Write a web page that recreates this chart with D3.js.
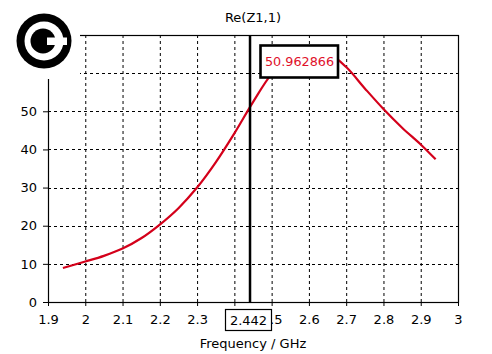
<!DOCTYPE html>
<html><head><meta charset="utf-8">
<script src="https://cdn.jsdelivr.net/npm/d3@7"></script>
<style>body{margin:0;background:#fff}svg{display:block}text{font-family:"DejaVu Sans",Verdana,sans-serif}</style>
</head><body><svg id="c" width="492" height="354"></svg>
<script>
const freq = [1.94,2.0,2.05,2.1,2.15,2.2,2.25,2.3,2.35,2.4,2.45,2.5,2.55,2.6,2.65,2.7,2.75,2.8,2.85,2.9,2.94];
const reZ  = [8.9,10.6,12.1,14.0,16.7,20.3,24.6,30.0,36.6,44.2,52.4,59.8,64.6,66.4,65.4,61.6,56.0,50.6,45.7,41.3,37.4];
const xTicks = [1.9,2,2.1,2.2,2.3,2.4,2.5,2.6,2.7,2.8,2.9,3];
const yTicks = [0,10,20,30,40,50,60,70];
const markerFreq = 2.442;
const markerLabel = "2.442";
const markerValue = "50.962866";
const title = "Re(Z1,1)";
const xTitle = "Frequency / GHz";

const svg = d3.select("#c");
const L=48,R=458,T=35,B=302;
const x = d3.scaleLinear().domain([1.9,3]).range([L,R]);
const y = d3.scaleLinear().domain([0,70]).range([B,T]);

// grid
const g = svg.append("g");
g.selectAll(".vg").data(xTicks.slice(1,-1)).enter().append("line")
 .attr("x1",d=>x(d)+0.5).attr("x2",d=>x(d)+0.5).attr("y1",T).attr("y2",B)
 .attr("stroke","#000").attr("stroke-dasharray","3,3");
g.selectAll(".hg").data(yTicks.slice(1,-1)).enter().append("line")
 .attr("y1",d=>Math.round(y(d))+0.5).attr("y2",d=>Math.round(y(d))+0.5).attr("x1",L).attr("x2",R)
 .attr("stroke","#000").attr("stroke-dasharray","3,3");

// axes
const xa = svg.append("g").attr("transform",`translate(0,${B})`)
 .call(d3.axisBottom(x).tickValues(xTicks).tickSize(4).tickPadding(9).tickFormat(d3.format("")));
const ya = svg.append("g").attr("transform",`translate(${L},0)`)
 .call(d3.axisLeft(y).tickValues(yTicks).tickSize(5).tickPadding(6).tickFormat(d3.format("")));
[xa,ya].forEach(a=>{a.selectAll("text").attr("font-size","13px").attr("fill","#000").attr("font-family","DejaVu Sans");
 a.selectAll("line,path").attr("stroke","#000");});
ya.select(".domain").remove(); xa.select(".domain").remove();
svg.append("rect").attr("x",L+0.5).attr("y",T+0.5).attr("width",R-L).attr("height",B-T)
 .attr("fill","none").attr("stroke","#000").attr("stroke-width",1.2);

// curve
svg.append("path").datum(freq.map((f,i)=>[f,reZ[i]]))
 .attr("d",d3.line().x(d=>x(d[0])).y(d=>y(d[1])).curve(d3.curveCatmullRom.alpha(0.5)))
 .attr("fill","none").attr("stroke","#d4001a").attr("stroke-width",2.2);

// marker
const mx = x(markerFreq);
svg.append("line").attr("x1",mx).attr("x2",mx).attr("y1",T).attr("y2",B)
 .attr("stroke","#000").attr("stroke-width",2.5);
svg.append("rect").attr("x",225.5).attr("y",309.5).attr("width",46).attr("height",21)
 .attr("fill","#fff").attr("stroke","#000").attr("stroke-width",1.2);
svg.append("text").attr("x",248.5).attr("y",325).attr("text-anchor","middle").attr("font-size","13px").text(markerLabel);
svg.append("rect").attr("x",260.5).attr("y",45.5).attr("width",77.5).attr("height",32)
 .attr("fill","#fff").attr("stroke","#000").attr("stroke-width",2.6);
svg.append("text").attr("x",299.5).attr("y",66).attr("text-anchor","middle").attr("font-size","12.8px")
 .attr("fill","#e0102a").text(markerValue);

// titles
svg.append("text").attr("x",253).attr("y",22).attr("text-anchor","middle").attr("font-size","13px").text(title);
svg.append("text").attr("x",253).attr("y",348).attr("text-anchor","middle").attr("font-size","13px").text(xTitle);

// logo
svg.append("rect").attr("x",0).attr("y",0).attr("width",80).attr("height",79).attr("fill","#fff");
const cx=44, cy=41;
svg.append("circle").attr("cx",cx).attr("cy",cy).attr("r",27.5).attr("fill","#000");
svg.append("circle").attr("cx",cx).attr("cy",cy).attr("r",19.5).attr("fill","#fff");
svg.append("circle").attr("cx",cx-1).attr("cy",cy).attr("r",12.5).attr("fill","#000");
svg.append("rect").attr("x",cx+3).attr("y",cy-3.5).attr("width",20).attr("height",7.5).attr("fill","#fff");
</script></body></html>
